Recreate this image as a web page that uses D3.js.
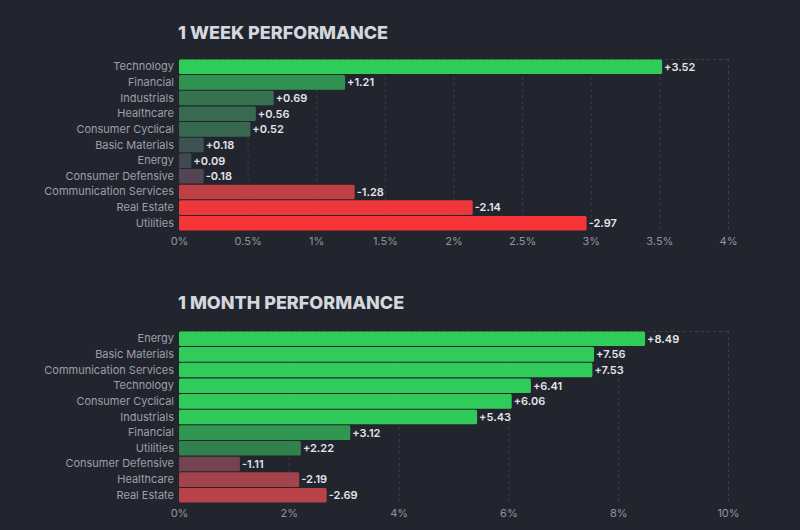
<!DOCTYPE html>
<html>
<head>
<meta charset="utf-8">
<script src="https://cdn.jsdelivr.net/npm/d3@7"></script>
<style>
  html, body { margin: 0; padding: 0; background: #22252d; }
  svg { display: block; }
</style>
</head>
<body>
<div id="chart"></div>
<script>
const weekSectors = ['Technology', 'Financial', 'Industrials', 'Healthcare', 'Consumer Cyclical', 'Basic Materials',
    'Energy', 'Consumer Defensive', 'Communication Services', 'Real Estate', 'Utilities'];
const weekValues = [3.52, 1.21, 0.69, 0.56, 0.52, 0.18, 0.09, -0.18, -1.28, -2.14, -2.97];
const weekTicks = [0, 0.5, 1, 1.5, 2, 2.5, 3, 3.5, 4];

const monthSectors = ['Energy', 'Basic Materials', 'Communication Services', 'Technology', 'Consumer Cyclical',
    'Industrials', 'Financial', 'Utilities', 'Consumer Defensive', 'Healthcare', 'Real Estate'];
const monthValues = [8.49, 7.56, 7.53, 6.41, 6.06, 5.43, 3.12, 2.22, -1.11, -2.19, -2.69];
const monthTicks = [0, 2, 4, 6, 8, 10];

const width = 800;
const height = 530;
const margin = {left: 179, right: 72};

const svg = d3.select('#chart').append('svg')
    .attr('width', width)
    .attr('height', height)
    .attr('viewBox', `0 0 ${width} ${height}`);

const makePanel = (title, sectors, values, ticks, top, bottom, titleY) => {
    const data = sectors.map((s, i) => ({sector: s, value: values[i]}));
    const maxAbs = d3.max(values, v => Math.abs(v));

    const x = d3.scaleLinear()
        .domain([0, d3.max(ticks)])
        .range([margin.left, width - margin.right]);

    const y = d3.scaleBand()
        .domain(sectors)
        .range([top, bottom])
        .paddingInner(0.07)
        .paddingOuter(0.03);

    // colour by share of the panel's largest move
    const color = d3.scaleLinear()
        .domain([-0.65, -0.3, 0, 0.3, 0.65])
        .range(['#f63538', '#b44349', '#414554', '#2f8a4c', '#30cc5a'])
        .clamp(true);

    const g = svg.append('g');

    g.append('text')
        .attr('x', margin.left - 1)
        .attr('y', titleY)
        .attr('fill', '#d4d7de')
        .attr('font-family', 'Inter, sans-serif')
        .attr('font-weight', 800)
        .attr('font-size', 18)
        .text(title);

    // grid
    g.append('g')
        .selectAll('line')
        .data(ticks)
        .join('line')
        .attr('x1', d => x(d) + 0.5)
        .attr('x2', d => x(d) + 0.5)
        .attr('y1', top)
        .attr('y2', bottom)
        .attr('stroke', '#3a3e48')
        .attr('stroke-dasharray', '3,3');

    g.append('line')
        .attr('x1', x(0))
        .attr('x2', x(d3.max(ticks)))
        .attr('y1', top + 0.5)
        .attr('y2', top + 0.5)
        .attr('stroke', '#3a3e48')
        .attr('stroke-dasharray', '3,3');

    const xAxis = d3.axisBottom(x)
        .tickValues(ticks)
        .tickFormat(d => `${d}%`)
        .tickSize(0)
        .tickPadding(6);

    g.append('g')
        .attr('transform', `translate(0,${bottom})`)
        .call(xAxis)
        .call(a => a.select('.domain').remove())
        .call(a => a.selectAll('text')
            .attr('fill', '#8f95a1')
            .attr('font-family', 'Inter, sans-serif')
            .attr('font-size', 11));

    const yAxis = d3.axisLeft(y).tickSize(0).tickPadding(5);

    g.append('g')
        .attr('transform', `translate(${margin.left},0)`)
        .call(yAxis)
        .call(a => a.select('.domain').remove())
        .call(a => a.selectAll('text')
            .attr('fill', '#9aa0ab')
            .attr('font-family', 'Inter, sans-serif')
            .attr('font-size', 11));

    g.append('g')
        .selectAll('rect')
        .data(data)
        .join('rect')
        .attr('x', x(0))
        .attr('y', d => y(d.sector))
        .attr('width', d => x(Math.abs(d.value)) - x(0))
        .attr('height', y.bandwidth())
        .attr('rx', 1.5)
        .attr('fill', d => color(d.value / maxAbs));

    g.append('g')
        .selectAll('text')
        .data(data)
        .join('text')
        .attr('x', d => x(Math.abs(d.value)) + 2)
        .attr('y', d => y(d.sector) + y.bandwidth() / 2)
        .attr('dy', '0.35em')
        .attr('fill', '#e2e4e9')
        .attr('font-family', 'Inter, sans-serif')
        .attr('font-weight', 600)
        .attr('font-size', 11)
        .text(d => (d.value > 0 ? '+' : '') + d.value.toFixed(2));
};

makePanel('1 WEEK PERFORMANCE', weekSectors, weekValues, weekTicks, 59, 231, 39);
makePanel('1 MONTH PERFORMANCE', monthSectors, monthValues, monthTicks, 331, 503, 309);
</script>
</body>
</html>
